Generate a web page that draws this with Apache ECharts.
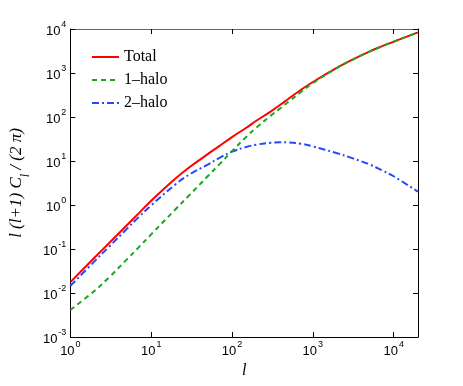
<!DOCTYPE html>
<html><head><meta charset="utf-8">
<script src="https://cdn.jsdelivr.net/npm/echarts@6/dist/echarts.min.js"></script>
<style>html,body{margin:0;padding:0;background:#fff}#c{width:463px;height:386px}</style>
</head><body><div id="c"></div>
<script>
const ells = [1, 2, 3, 5, 7, 10, 20, 30, 50, 70, 100, 150, 200, 300, 400, 500, 700, 1000, 2000, 3000, 5000, 7000, 10000, 20000];
const total = [0.0177, 0.064, 0.135, 0.347, 0.646, 1.25, 4.0, 7.3, 14.3, 22, 35, 57, 82, 133, 192, 260, 405, 625, 1325, 1962, 3073, 3990, 5150, 8400];
const oneHalo = [0.0041, 0.0113, 0.0225, 0.058, 0.109, 0.215, 0.80, 1.71, 4.5, 8.5, 16.7, 35.3, 57.5, 106, 160, 222, 360, 590, 1310, 1950, 3065, 3984, 5145, 8398];
const twoHalo = [0.0145, 0.053, 0.112, 0.287, 0.53, 0.98, 2.95, 5.0, 8.3, 11.8, 16.3, 20.8, 23.5, 26.0, 26.8, 26.5, 24.8, 21.5, 15, 11.8, 8.4, 6.3, 4.5, 2.0];
const xTicks = [1, 10, 100, 1000, 10000];
const yTicks = [0.001, 0.01, 0.1, 1, 10, 100, 1000, 10000];
const seriesNames = ['Total', '1\u2013halo', '2\u2013halo'];

function pw(v, ticks) {
  for (const t of ticks) { if (Math.abs(v - t) / t < 1e-6) return '{b|10}{s|' + Math.round(Math.log10(t)) + '}'; }
  return '';
}
const rich = {
  b: {fontFamily: 'Liberation Sans', fontSize: 13, color: '#000', lineHeight: 18, verticalAlign: 'bottom'},
  s: {fontFamily: 'Liberation Sans', fontSize: 9, color: '#000', lineHeight: 18, verticalAlign: 'top', padding: [0, 0, 0, 1]}
};
const mk = arr => ells.map((l, i) => [l, arr[i]]);
const chart = echarts.init(document.getElementById('c'), null, {renderer: 'canvas'});
chart.setOption({
  animation: false,
  backgroundColor: '#fff',
  grid: {left: 59, top: 29, right: 45, bottom: 49, containLabel: false},
  legend: {
    orient: 'vertical', left: 86, top: 44, itemWidth: 27, itemHeight: 14, itemGap: 7,
    data: seriesNames,
    itemStyle: {opacity: 0},
    textStyle: {fontFamily: 'Liberation Serif', fontSize: 16, color: '#000', lineHeight: 16},
    backgroundColor: 'transparent', borderWidth: 0
  },
  xAxis: [{
    type: 'log', logBase: 10, min: 1, max: 20000, position: 'bottom',
    name: 'l', nameLocation: 'middle', nameGap: 24,
    nameTextStyle: {fontFamily: 'Liberation Serif', fontStyle: 'italic', fontSize: 16, color: '#000'},
    axisLine: {show: true, lineStyle: {color: '#000', width: 1}},
    axisTick: {show: true, inside: true, length: 5, lineStyle: {color: '#000'}},
    minorTick: {show: false}, splitLine: {show: false},
    axisLabel: {margin: 3, formatter: v => pw(v, xTicks), rich: rich, showMaxLabel: true, showMinLabel: true}
  }, {
    type: 'log', logBase: 10, min: 1, max: 20000, position: 'top',
    axisLine: {show: true, lineStyle: {color: '#666', width: 1}},
    axisTick: {show: true, inside: true, length: 5, lineStyle: {color: '#000'}},
    axisLabel: {show: false}, splitLine: {show: false}
  }],
  yAxis: [{
    type: 'log', logBase: 10, min: 0.001, max: 10000, position: 'left',
    name: '{i|l (l+1) C}{sub|l}{i| / (2 \u03c0)}', nameLocation: 'middle', nameGap: 38, nameRotate: 90,
    nameTextStyle: {
      rich: {
        i: {fontFamily: 'Liberation Serif', fontStyle: 'italic', fontSize: 17, color: '#000', lineHeight: 20, verticalAlign: 'top'},
        sub: {fontFamily: 'Liberation Serif', fontStyle: 'italic', fontSize: 12, color: '#000', lineHeight: 20, verticalAlign: 'bottom', padding: [0, 0, -4, 0]}
      }
    },
    axisLine: {show: true, lineStyle: {color: '#000', width: 1}},
    axisTick: {show: true, inside: true, length: 5, lineStyle: {color: '#000'}},
    minorTick: {show: false}, splitLine: {show: false},
    axisLabel: {margin: 4, formatter: v => pw(v, yTicks), rich: rich}
  }, {
    type: 'log', logBase: 10, min: 0.001, max: 10000, position: 'right',
    axisLine: {show: true, lineStyle: {color: '#000', width: 1}},
    axisTick: {show: true, inside: true, length: 5, lineStyle: {color: '#000'}},
    axisLabel: {show: false}, splitLine: {show: false}
  }],
  series: [
    {name: seriesNames[0], type: 'line', data: mk(total), smooth: 0.4, symbol: 'none', z: 3,
     lineStyle: {color: '#ff0000', width: 2, type: 'solid'}, itemStyle: {color: '#ff0000'}},
    {name: seriesNames[1], type: 'line', data: mk(oneHalo), smooth: 0.4, symbol: 'none', z: 4,
     lineStyle: {color: '#1ea51e', width: 2, type: [5, 4]}, itemStyle: {color: '#1ea51e'}},
    {name: seriesNames[2], type: 'line', data: mk(twoHalo), smooth: 0.4, symbol: 'none', z: 2,
     lineStyle: {color: '#2448ff', width: 2, type: [7, 3, 2, 3]}, itemStyle: {color: '#2448ff'}}
  ]
});
</script></body></html>
